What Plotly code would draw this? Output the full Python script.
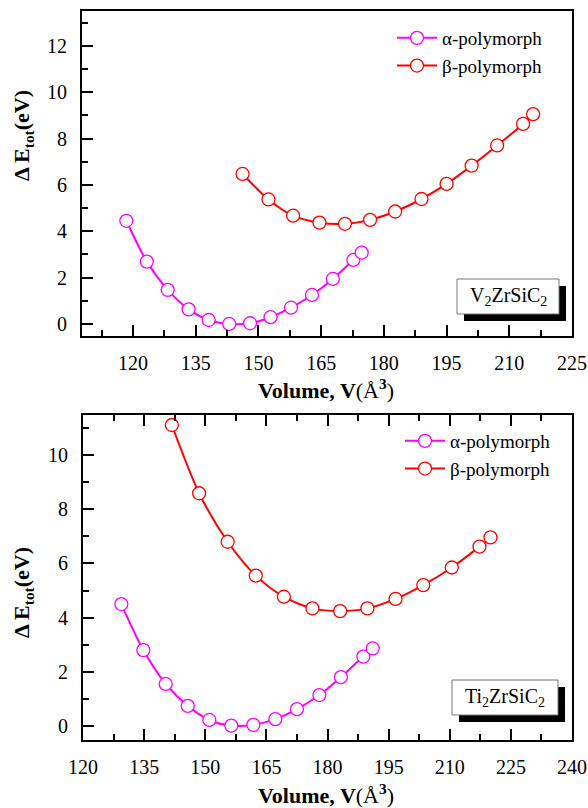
import plotly.graph_objects as go

W, H = 588, 808

# ---- data: V2ZrSiC2 (top panel) ----
v1_alpha = [118.4, 123.3, 128.3, 133.3, 138.1, 143.0, 148.0, 152.9, 157.8, 162.8, 167.8, 172.7, 174.7]
e1_alpha = [4.45, 2.69, 1.47, 0.63, 0.17, 0.00, 0.03, 0.29, 0.70, 1.25, 1.94, 2.76, 3.08]
v1_beta = [146.2, 152.4, 158.3, 164.6, 170.7, 176.7, 182.7, 189.0, 195.0, 201.0, 207.1, 213.3, 215.7]
e1_beta = [6.47, 5.37, 4.67, 4.37, 4.32, 4.49, 4.85, 5.39, 6.04, 6.83, 7.70, 8.63, 9.05]

# ---- data: Ti2ZrSiC2 (bottom panel) ----
v2_alpha = [129.4, 134.8, 140.3, 145.7, 151.0, 156.4, 161.8, 167.2, 172.5, 178.0, 183.3, 188.8, 191.1]
e2_alpha = [4.50, 2.80, 1.55, 0.74, 0.22, 0.01, 0.04, 0.25, 0.62, 1.14, 1.80, 2.56, 2.86]
v2_beta = [141.8, 148.5, 155.5, 162.4, 169.3, 176.3, 183.1, 189.8, 196.7, 203.5, 210.5, 217.3, 220.0]
e2_beta = [11.11, 8.59, 6.80, 5.55, 4.77, 4.34, 4.24, 4.34, 4.69, 5.20, 5.85, 6.62, 6.96]

series_names = ["α-polymorph", "β-polymorph"]
compounds = ["V<sub>2</sub>ZrSiC<sub>2</sub>", "Ti<sub>2</sub>ZrSiC<sub>2</sub>"]

MAG = "#FF00FF"
RED = "#FF0000"
FONT = "Liberation Serif"


def px_x(p):
    return p / W


def px_y(p):
    return 1 - p / H


fig = go.Figure()


def add(v, e, name, color, xa, ya, legend):
    fig.add_trace(go.Scatter(
        x=v, y=e, name=name, mode="lines+markers",
        line=dict(color=color, width=2, shape="spline", smoothing=0.8),
        marker=dict(symbol="circle", size=13, color="white",
                    line=dict(color=color, width=1.3)),
        xaxis=xa, yaxis=ya, legend=legend,
    ))


add(v1_alpha, e1_alpha, series_names[0], MAG, "x", "y", "legend")
add(v1_beta, e1_beta, series_names[1], RED, "x", "y", "legend")
add(v2_alpha, e2_alpha, series_names[0], MAG, "x2", "y2", "legend2")
add(v2_beta, e2_beta, series_names[1], RED, "x2", "y2", "legend2")

axis_common = dict(
    showline=True, linecolor="black", linewidth=2,
    ticks="inside", ticklen=11, tickwidth=2, tickcolor="black",
    showgrid=False, zeroline=False, automargin=False,
    tickfont=dict(family=FONT, size=20, color="black"),
)
minor_common = dict(ticks="inside", ticklen=6, tickwidth=2, tickcolor="black")

fig.update_layout(
    template="none",
    width=W, height=H,
    margin=dict(l=0, r=0, t=0, b=0, autoexpand=False),
    font=dict(family=FONT, size=19, color="black"),
    paper_bgcolor="white", plot_bgcolor="white",
    showlegend=True,
    xaxis=dict(**axis_common, domain=[px_x(82), px_x(572)], range=[107.8, 225],
               tick0=120, dtick=15, mirror=True, anchor="y", ticklabelstandoff=8,
               minor=dict(**minor_common, dtick=7.5, tick0=112.5)),
    yaxis=dict(**axis_common, domain=[px_y(336), px_y(11)], range=[-0.52, 13.5],
               tick0=0, dtick=2, mirror=True, anchor="x", ticklabelstandoff=9,
               minor=dict(**minor_common, dtick=1)),
    xaxis2=dict(**axis_common, domain=[px_x(83), px_x(572)], range=[120, 240],
                tick0=120, dtick=15, mirror="ticks", anchor="y2", ticklabelstandoff=8,
                minor=dict(**minor_common, dtick=7.5)),
    yaxis2=dict(**axis_common, domain=[px_y(740), px_y(415)], range=[-0.52, 11.48],
                tick0=0, dtick=2, mirror=True, anchor="x2", ticklabelstandoff=9,
                minor=dict(**minor_common, dtick=1)),
    legend=dict(x=px_x(392), y=px_y(19), xanchor="left", yanchor="top",
                font=dict(family=FONT, size=19, color="black"),
                bgcolor="rgba(0,0,0,0)", tracegroupgap=0, itemwidth=40),
    legend2=dict(x=px_x(400), y=px_y(422), xanchor="left", yanchor="top",
                 font=dict(family=FONT, size=19, color="black"),
                 bgcolor="rgba(0,0,0,0)", tracegroupgap=0, itemwidth=40),
)

xtitle = "<b>Volume, V</b>(Å<b><sup>3</sup></b>)"
ytitle = "<b>Δ E<sub>tot</sub>(eV)</b>"

for yc in (389, 794):
    fig.add_annotation(xref="paper", yref="paper", x=px_x(326), y=px_y(yc), text=xtitle,
                       showarrow=False, xanchor="center", yanchor="middle",
                       font=dict(family=FONT, size=22, color="black"))

for yc in (136, 593):
    fig.add_annotation(xref="paper", yref="paper", x=px_x(23), y=px_y(yc), text=ytitle,
                       showarrow=False, textangle=-90, xanchor="center", yanchor="middle",
                       font=dict(family=FONT, size=22, color="black"))

# compound labels with drop shadow
boxes = [
    dict(cx=508, cy=296.5, x0=457, x1=559, y0=279, y1=314, text=compounds[0]),
    dict(cx=505, cy=697.5, x0=452, x1=558, y0=680, y1=715, text=compounds[1]),
]
for b in boxes:
    fig.add_shape(type="rect", xref="paper", yref="paper",
                  x0=px_x(b["x0"] + 7), x1=px_x(b["x1"] + 7),
                  y0=px_y(b["y1"] + 7), y1=px_y(b["y0"] + 7),
                  fillcolor="black", line=dict(width=0), layer="above")
    fig.add_shape(type="rect", xref="paper", yref="paper",
                  x0=px_x(b["x0"]), x1=px_x(b["x1"]),
                  y0=px_y(b["y1"]), y1=px_y(b["y0"]),
                  fillcolor="white", line=dict(color="#777777", width=1), layer="above")
    fig.add_annotation(xref="paper", yref="paper", x=px_x(b["cx"]), y=px_y(b["cy"]),
                       text=b["text"], showarrow=False, xanchor="center", yanchor="middle",
                       font=dict(family=FONT, size=20, color="black"))

js = (
    "document.body.style.margin='0';document.body.style.overflow='hidden';"
    "document.querySelectorAll('.xtick text, .ytick text, .x2tick text, .y2tick text, text.legendtext')"
    ".forEach(function(t){t.style.fontFamily='Liberation Serif';});"
)

fig.write_html("out.html", config={"displayModeBar": False}, post_script=js)
